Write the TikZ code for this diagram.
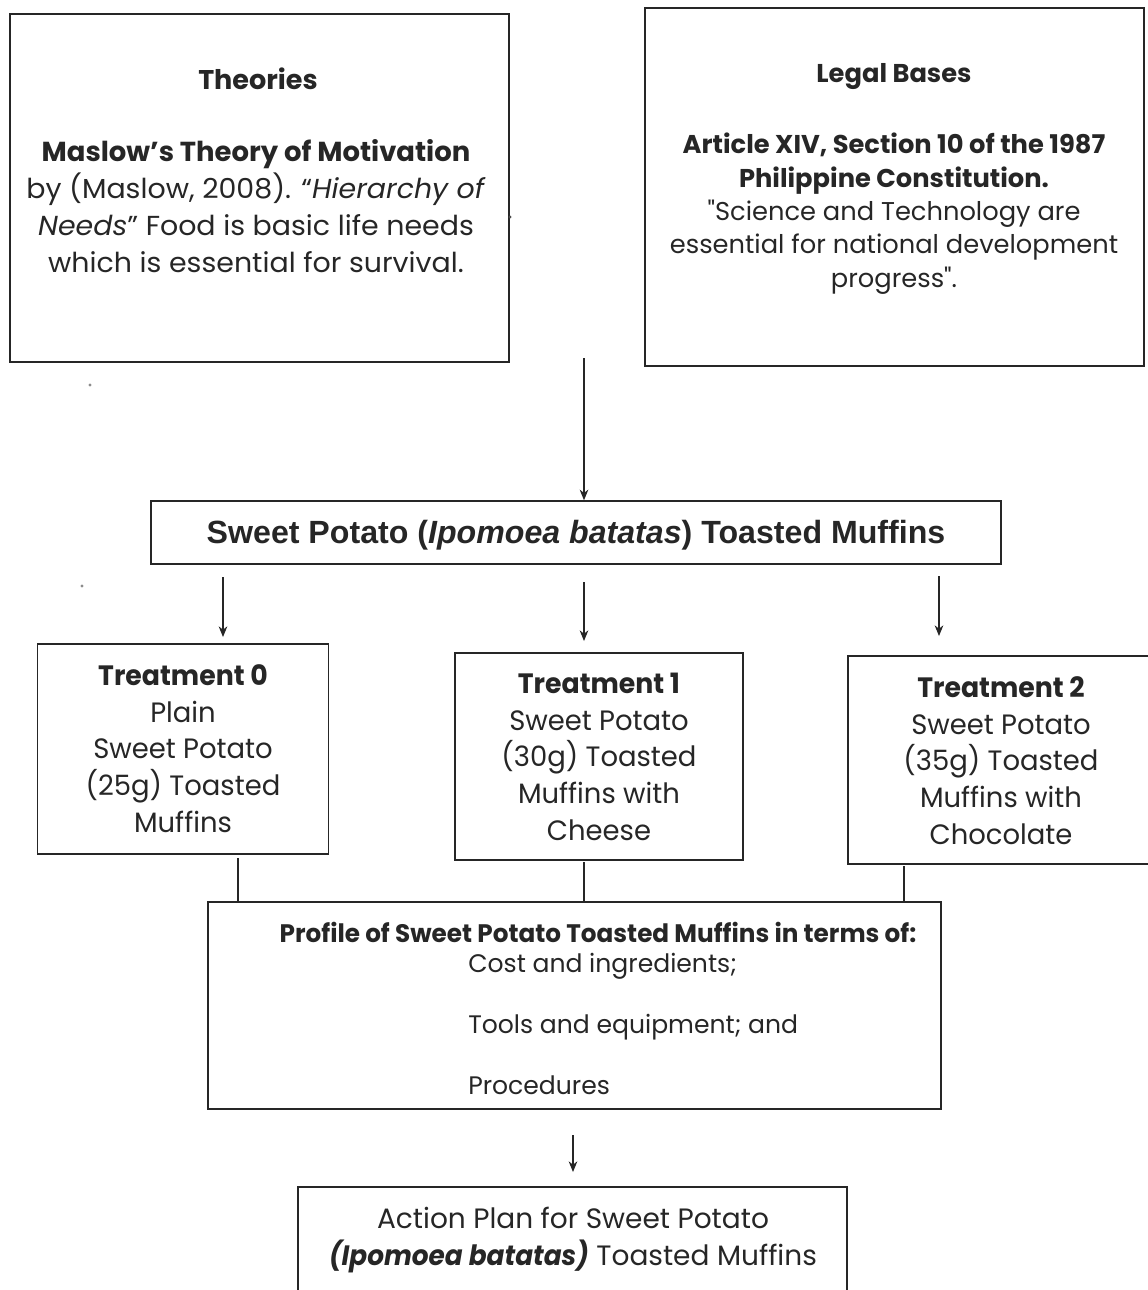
\documentclass[tikz,border=0pt]{standalone}
\usepackage{fontspec}
\setmainfont{Poppins}
\newfontfamily\cgfont{Poppins}
\newfontfamily\theofont[FakeStretch=1.035]{Poppins}
\newfontfamily\tfont[FakeStretch=0.98]{Poppins}
\newfontfamily\tbfont[FakeStretch=0.955]{Poppins}
\newfontfamily\pfont[FakeStretch=0.99]{Poppins}
\newfontfamily\pbfont[FakeStretch=0.975]{Poppins}
\newfontfamily\abfont[FakeStretch=0.94]{Poppins}
\newfontfamily\arialfont{Liberation Sans}
\usetikzlibrary{arrows.meta}
\tikzset{
  box/.style={draw=black!85, line width=1.1pt, rectangle, inner sep=0pt},
  txt/.style={inner sep=0pt, align=center, text=black!85},
  arr/.style={line width=0.9pt, draw=black!85, -{Stealth[length=8pt,width=6.5pt,inset=2.5pt]}},
  ln/.style={line width=0.9pt, draw=black!85},
  speck/.style={fill=black!45, draw=none, circle, minimum size=2.5pt, inner sep=0pt}
}
\begin{document}
\begin{tikzpicture}[x=0.75pt,y=-0.75pt]
\useasboundingbox (0,0) rectangle (1148,1290);
% top boxes
\node[box, minimum width=374.25pt, minimum height=261pt] (theo) at (259.5,188) {};
\node[txt, anchor=base, font={\cgfont\fontsize{20.3}{27.75}\selectfont\bfseries}] (theoT) at (258,89) {Theories};
\node[txt, anchor=base, font={\theofont\fontsize{20.6}{27.75}\selectfont}] (theoB) at (256,272)
 {{\cgfont\bfseries Maslow’s Theory of Motivation}\\by (Maslow, 2008). “\textit{Hierarchy of}\\\textit{Needs}” Food is basic life needs\\which is essential for survival.};

\node[box, minimum width=374.25pt, minimum height=268.5pt] (legal) at (894.5,187) {};
\node[txt, anchor=base, font={\cgfont\fontsize{19.3}{25}\selectfont\bfseries}] (legalT) at (894,82) {Legal Bases};
\node[txt, anchor=base, font={\cgfont\fontsize{19.3}{25}\selectfont}] (legalB) at (894,287)
 {\textbf{Article XIV, Section 10 of the 1987}\\\textbf{Philippine Constitution.}\\"Science and Technology are\\essential for national development\\progress".};

% title
\node[box, minimum width=637.5pt, minimum height=47.25pt] (title) at (576,532.5) {};
\node[txt, font={\arialfont\fontsize{24.1}{28}\selectfont\bfseries}] (titleT) at (576,535)
 {Sweet Potato (\textit{Ipomoea batatas}) Toasted Muffins};

% treatments
\node[box, minimum width=218.25pt, minimum height=157.5pt] (t0) at (183,749) {};
\node[txt, anchor=base, font={\tfont\fontsize{21}{27.5}\selectfont}] (t0T) at (183,832)
 {{\tbfont\bfseries Treatment 0}\\Plain\\Sweet Potato\\(25g) Toasted\\Muffins};
\node[box, minimum width=216pt, minimum height=155.25pt] (t1) at (599,756.5) {};
\node[txt, anchor=base, font={\tfont\fontsize{21}{27.5}\selectfont}] (t1T) at (599,840)
 {{\tbfont\bfseries Treatment 1}\\Sweet Potato\\(30g) Toasted\\Muffins with\\Cheese};
\node[box, minimum width=226.5pt, minimum height=156pt] (t2) at (999,760) {};
\node[txt, anchor=base, font={\tfont\fontsize{21}{27.5}\selectfont}] (t2T) at (1001,844)
 {{\tbfont\bfseries Treatment 2}\\Sweet Potato\\(35g) Toasted\\Muffins with\\Chocolate};

% profile
\node[box, minimum width=549.75pt, minimum height=155.25pt] (prof) at (574.5,1005.5) {};
\node[txt, font={\pbfont\fontsize{19}{22}\selectfont\bfseries}] (profT) at (598,932)
 {Profile of Sweet Potato Toasted Muffins in terms of:};
\node[txt, anchor=base west, font={\pfont\fontsize{19}{22}\selectfont}] (p1) at (468,972) {Cost and ingredients;};
\node[txt, anchor=base west, font={\pfont\fontsize{19}{22}\selectfont}] (p2) at (468,1033) {Tools and equipment; and};
\node[txt, anchor=base west, font={\pfont\fontsize{19}{22}\selectfont}] (p3) at (468,1094) {Procedures};

% action plan
\node[box, minimum width=411.75pt, minimum height=120pt] (act) at (572.5,1267) {};
\node[txt, anchor=base, font={\cgfont\fontsize{21}{27.5}\selectfont}] (actT) at (573,1265)
 {Action Plan for Sweet Potato\\{\abfont\bfseries\itshape (Ipomoea batatas)} Toasted Muffins};

% connectors
\coordinate (a0s) at (584,358);
\draw[arr] (a0s) -- (title.north -| a0s);
\coordinate (b0s) at (223,577);
\coordinate (b0e) at (223,637);
\draw[arr] (b0s) -- (b0e);
\coordinate (b1s) at (584,582);
\coordinate (b1e) at (584,641);
\draw[arr] (b1s) -- (b1e);
\coordinate (b2s) at (939,576);
\coordinate (b2e) at (939,636);
\draw[arr] (b2s) -- (b2e);
\coordinate (c0s) at (238,858);
\draw[ln] (c0s) -- (prof.north -| c0s);
\coordinate (c1s) at (584,862);
\draw[ln] (c1s) -- (prof.north -| c1s);
\coordinate (c2s) at (904,866);
\draw[ln] (c2s) -- (prof.north -| c2s);
\coordinate (d0s) at (573,1135);
\coordinate (d0e) at (573,1172);
\draw[arr] (d0s) -- (d0e);

% specks
\node[speck] (s1) at (90,385) {};
\node[speck] (s2) at (82,586) {};
\node[speck, fill=black!70] (s3) at (510,217) {};
\end{tikzpicture}
\end{document}
